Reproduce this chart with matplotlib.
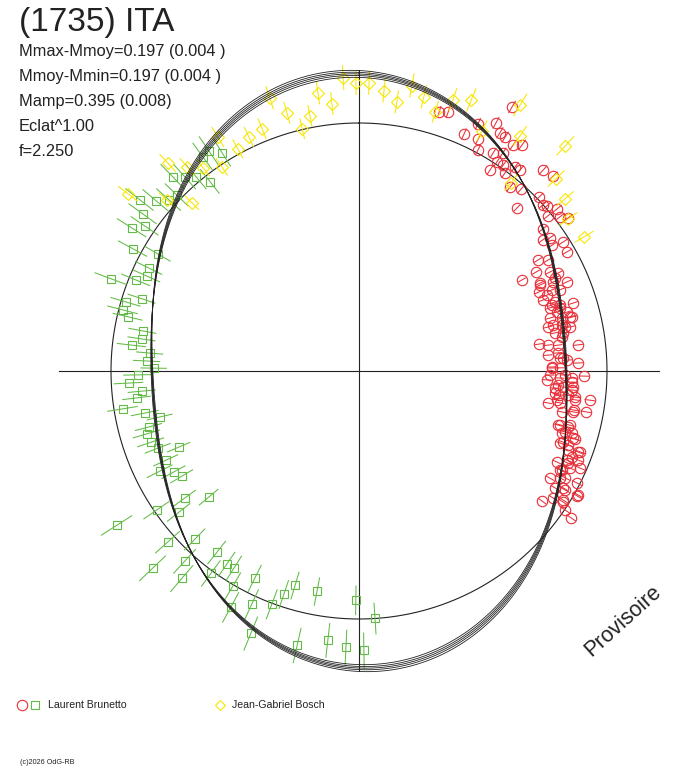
import numpy as np
import matplotlib
matplotlib.use("Agg")
import matplotlib.pyplot as plt
from matplotlib.collections import LineCollection

# ---------------- data (rotation phase in degrees, 0 = top, clockwise; dmag = brightness vs mean, mag) -------------
red_phase_deg = [30.1, 28.9, 25.7, 23.9, 27.2, 30.6, 32.0, 34.3, 35.8, 28.3, 31.6, 33.4, 33.4, 33.1, 35.0,
                 37.4, 38.7, 36.4, 42.5, 44.9, 39.4, 41.7, 44.1, 46.0, 47.9, 48.7, 50.7, 50.6, 52.5, 53.8,
                 52.3, 55.1, 57.7, 60.2, 54.5, 56.9, 58.2, 59.6, 60.8, 62.6, 63.8, 60.8,
                 64.1, 65.4, 66.8, 66.3, 68.0, 68.0, 71.1, 71.8, 72.4, 73.4, 74.2, 74.5, 75.8, 76.9, 77.2,
                 78.2, 79.0, 79.4, 81.5, 82.2, 83.2, 85.2, 86.3, 87.0, 87.9, 89.1, 89.1, 92.7, 92.0, 91.9,
                 91.3, 95.0, 94.5, 94.3, 96.8, 96.6, 97.6, 97.2, 99.6, 99.0, 100.2, 101.4, 100.8, 105.2,
                 105.0, 107.0, 106.2, 109.2, 109.7, 107.5, 110.7, 110.1, 114.7, 113.2, 112.1, 116.2, 114.7,
                 113.7, 119.3, 118.0, 117.2, 120.8, 119.8, 125.4, 123.2, 119.8, 122.3, 124.0, 124.7,
                 17.2, 19.0,
                 64.6, 64.6, 67.2, 68.9, 70.6, 71.7, 72.6, 75.4, 75.6, 76.7, 77.9, 80.5, 82.6, 84.8, 86.4,
                 88.8, 91.2, 91.1, 94.0, 93.0, 96.4, 95.1, 96.9, 98.3, 100.3, 105.0, 104.4, 106.5, 107.4,
                 109.5, 110.3, 112.0, 113.8, 116.0, 117.4, 120.0, 119.5, 122.7]
red_dmag = [0.225, 0.145, 0.109, 0.048, 0.054, 0.119, 0.115, 0.106, 0.126, 0.013, 0.034, 0.057, 0.010, -0.036, 0.014,
            0.038, 0.041, -0.009, 0.102, 0.112, -0.045, -0.019, -0.096, 0.010, 0.000, 0.009, 0.034, -0.016, 0.023, 0.047,
            -0.071, -0.069, -0.029, -0.037, -0.101, -0.079, -0.177, -0.134, -0.218, -0.154, -0.121, -0.308,
            -0.227, -0.163, -0.100, -0.252, -0.218, -0.146, -0.212, -0.172, -0.108, -0.198, -0.149, -0.243, -0.131, -0.266, -0.190,
            -0.152, -0.236, -0.194, -0.336, -0.285, -0.128, -0.291, -0.226, -0.189, -0.135, -0.272, -0.228, -0.300, -0.228, -0.165,
            -0.105, -0.251, -0.209, -0.157, -0.226, -0.179, -0.141, -0.069, -0.280, -0.215, -0.079, -0.196, -0.141, -0.200,
            -0.148, -0.169, -0.121, -0.150, -0.163, -0.098, -0.113, -0.057, -0.141, -0.100, -0.052, -0.110, -0.071,
            -0.029, -0.135, -0.093, -0.013, -0.090, -0.058, -0.108, -0.073, 0.014, -0.029, 0.002, 0.043,
            0.097, 0.108,
            -0.231, -0.145, -0.184, -0.249, -0.192, -0.227, -0.177, -0.182, -0.141, -0.237, -0.177, -0.202, -0.230, -0.235, -0.210,
            -0.272, -0.283, -0.202, -0.236, -0.164, -0.249, -0.161, -0.142, -0.233, -0.138, -0.190, -0.141, -0.156, -0.110,
            -0.122, -0.065, -0.083, -0.089, -0.101, -0.072, -0.045, 0.016, -0.025]
red_err = 0.025

green_phase_deg = [325.7, 327.9, 323.9, 316.2, 318.1, 320.0, 321.8, 314.0, 308.0, 310.0, 312.0, 306.0, 304.1,
                   302.2, 298.4, 300.2, 296.1, 294.1, 290.4, 292.2, 288.4, 286.5, 284.5, 283.2, 280.5, 278.4,
                   276.5, 274.9, 272.7, 270.8, 269.0, 267.0, 264.7, 263.1, 260.9, 258.9, 257.0, 255.1, 253.5,
                   251.1, 247.1, 249.0, 245.2, 243.3, 241.4, 239.3, 233.9, 230.0, 235.5, 231.9, 237.5, 228.2,
                   224.3, 218.1, 222.5, 226.3, 214.4, 212.4, 220.5, 216.2, 206.7, 210.4, 196.6, 198.6, 190.8,
                   204.7, 200.5, 180.8, 208.5, 176.3, 202.4, 192.7, 186.6, 182.7, 179.0]
green_dmag = [0.077, 0.041, 0.071, 0.087, 0.054, 0.023, -0.032, 0.022, 0.124, 0.071, 0.033, 0.080, 0.045,
              0.085, 0.038, -0.070, -0.064, -0.071, 0.070, -0.032, -0.088, -0.022, -0.019, -0.048, -0.131, -0.133,
              -0.089, -0.182, -0.169, -0.207, -0.125, -0.080, -0.141, -0.112, -0.040, -0.140, -0.211, -0.143, -0.124,
              -0.131, -0.259, -0.154, -0.168, -0.117, -0.176, -0.202, -0.153, -0.256, -0.012, -0.088, 0.158, 0.036,
              -0.059, -0.081, 0.041, 0.151, -0.064, -0.066, 0.102, 0.010, -0.074, 0.005, -0.113, -0.057, -0.110,
              0.036, 0.003, -0.087, 0.086, -0.002, 0.145, 0.135, 0.095, 0.117, 0.128]
green_err = 0.070

yellow_phase_deg = [344.4, 346.8, 349.1, 351.6, 354.2, 356.9, 359.4, 2.0, 5.1, 8.0, 10.5, 13.3, 16.4, 19.1,
                    22.5, 328.9, 331.4, 334.8, 338.2, 341.9, 317.4, 319.9, 322.5, 326.1, 307.5, 311.7, 315.2,
                    31.2, 34.4, 38.9, 42.5, 45.7, 50.1, 54.0, 59.2, 27.1]
yellow_dmag = [0.084, 0.003, 0.050, 0.136, 0.086, 0.183, 0.162, 0.163, 0.136, 0.099, 0.170, 0.138, 0.092, 0.158,
               0.182, 0.105, 0.021, 0.045, 0.054, 0.159, 0.141, 0.079, 0.034, -0.010, 0.174, 0.039, -0.050,
               0.245, 0.150, -0.028, 0.225, 0.113, 0.086, 0.045, 0.059, 0.091]
yellow_err = 0.046

# model curves (one per session): amplitude, offset (mag) and phase shift (deg)
model_amp = [0.188, 0.193, 0.197, 0.201, 0.206]
model_offset = [-0.004, -0.002, 0.000, 0.002, 0.004]
model_shift_deg = [2.4, 2.7, 3.0, 3.3, 3.6]

title = "(1735) ITA"
info_lines = ["Mmax-Mmoy=0.197 (0.004 )", "Mmoy-Mmin=0.197 (0.004 )", "Mamp=0.395 (0.008)",
              "Eclat^1.00", "f=2.250"]
observers = ["Laurent Brunetto", "Jean-Gabriel Bosch"]
credit = "(c)2026 OdG-RB"
stamp = "Provisoire"

RED, GREEN, YELLOW, INK = "#E8303A", "#62BB46", "#F8E600", "#222222"

# ---------------- figure ----------------
W, H = 688, 768
CX, CY, R = 359, 371, 248  # pole position and mean-radius scale (pixels)
fig = plt.figure(figsize=(W / 100, H / 100), dpi=100)
ax = fig.add_axes([0, 0, 1, 1])
ax.set_xlim(-CX / R, (W - CX) / R)
ax.set_ylim(-(H - CY) / R, CY / R)
ax.axis("off")


def to_xy(phase_deg, dmag):
    th = np.radians(np.asarray(phase_deg, dtype=float))
    r = 10 ** (0.4 * np.asarray(dmag, dtype=float))
    return r * np.sin(th), r * np.cos(th)


def err_segments(phase_deg, dmag, err):
    dm = np.asarray(dmag, dtype=float)
    x0, y0 = to_xy(phase_deg, dm - err)
    x1, y1 = to_xy(phase_deg, dm + err)
    return [[(a, b), (c, d)] for a, b, c, d in zip(x0, y0, x1, y1)]


# axes cross and mean circle
ax.plot([-1.21, 1.21], [0, 0], color=INK, lw=0.8, zorder=1)
ax.plot([0, 0], [-1.21, 1.21], color=INK, lw=0.8, zorder=1)
t = np.linspace(0, 2 * np.pi, 721)
ax.plot(np.sin(t), np.cos(t), color=INK, lw=0.8, zorder=1)

# data series
series = [
    (red_phase_deg, red_dmag, red_err, RED, "o", 7.5),
    (green_phase_deg, green_dmag, green_err, GREEN, "s", 5.4),
    (yellow_phase_deg, yellow_dmag, yellow_err, YELLOW, "D", 5.8),
]
for z, (ph, dm, er, col, mk, ms) in enumerate(series):
    ax.add_collection(LineCollection(err_segments(ph, dm, er), colors=col, linewidths=0.75, zorder=2 + z))
    x, y = to_xy(ph, dm)
    ax.plot(x, y, ls="none", marker=mk, ms=ms, mfc="none", mec=col, mew=0.8, zorder=2 + z)

# model curves
th = np.linspace(0, 360, 1441)
for a, c, s in zip(model_amp, model_offset, model_shift_deg):
    dm = a * np.cos(np.radians(2 * (th + s))) + c
    x, y = to_xy(th, dm)
    ax.plot(x, y, color=INK, lw=0.6, zorder=6)

# texts
FONT = "Liberation Sans"
fig.text(19 / W, 1 - 22 / H, title, fontsize=24, family=FONT, color=INK, va="center", ha="left")
for i, line in enumerate(info_lines):
    fig.text(19 / W, 1 - (51.5 + 25 * i) / H, line, fontsize=11.8, family=FONT, color=INK,
             va="center", ha="left")

ax.plot([22 / W], [1 - 705 / H], marker="o", ms=7.5, mfc="none", mec=RED, mew=0.8, transform=ax.transAxes)
ax.plot([35 / W], [1 - 705 / H], marker="s", ms=5.6, mfc="none", mec=GREEN, mew=0.8, transform=ax.transAxes)
fig.text(48 / W, 1 - 705 / H, observers[0], fontsize=7.6, family=FONT, color=INK, va="center", ha="left")
ax.plot([220 / W], [1 - 705 / H], marker="D", ms=5.6, mfc="none", mec=YELLOW, mew=0.8, transform=ax.transAxes)
fig.text(232 / W, 1 - 705 / H, observers[1], fontsize=7.6, family=FONT, color=INK, va="center", ha="left")
fig.text(20 / W, 1 - 763 / H, credit, fontsize=5.2, family=FONT, color=INK, va="center", ha="left")
fig.text(623 / W, 1 - 621 / H, stamp, fontsize=15.5, family=FONT, color=INK, rotation=42,
         va="center", ha="center", rotation_mode="anchor")

fig.savefig("out.png", dpi=100, facecolor="white")
